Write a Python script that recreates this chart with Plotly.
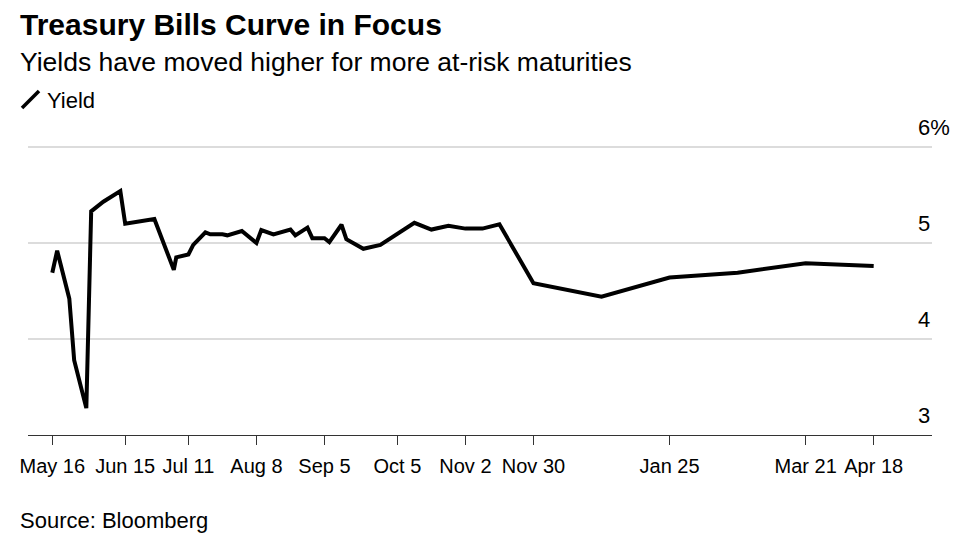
import datetime as dt
import plotly.graph_objects as go

# ---------------- data ----------------
start = dt.date(2023, 5, 16)
day_offsets = [0, 2, 7, 9, 14, 16, 21, 23, 28, 30, 42, 50, 51, 56, 58, 63, 65, 70, 72,
               78, 84, 86, 91, 98, 100, 105, 107, 112, 114, 119, 121, 128, 135, 149,
               156, 163, 170, 177, 184, 198, 226, 254, 282, 310, 338]
yields = [4.69, 4.92, 4.42, 3.78, 3.28, 5.33, 5.43, 5.46, 5.54, 5.20, 5.25, 4.72, 4.85,
          4.88, 4.98, 5.11, 5.09, 5.09, 5.08, 5.125, 5.00, 5.135, 5.09, 5.14, 5.08,
          5.16, 5.05, 5.05, 5.01, 5.19, 5.04, 4.94, 4.98, 5.21, 5.14, 5.18, 5.15,
          5.15, 5.195, 4.58, 4.44, 4.64, 4.69, 4.79, 4.76]
dates = [start + dt.timedelta(days=d) for d in day_offsets]

xtick_dates = ["2023-05-16", "2023-06-15", "2023-07-11", "2023-08-08", "2023-09-05",
               "2023-10-05", "2023-11-02", "2023-11-30", "2024-01-25", "2024-03-21",
               "2024-04-18"]
xtick_labels = ["May 16", "Jun 15", "Jul 11", "Aug 8", "Sep 5", "Oct 5", "Nov 2",
                "Nov 30", "Jan 25", "Mar 21", "Apr 18"]
ytick_vals = [3, 4, 5, 6]
ytick_labels = ["3", "4", "5", "6%"]

title = "Treasury Bills Curve in Focus"
subtitle = "Yields have moved higher for more at-risk maturities"
series_name = "Yield"
source = "Source: Bloomberg"

# ---------------- layout ----------------
FONT = "Liberation Sans, Arial, Helvetica, sans-serif"
W, H = 961, 535
L, R, T, B = 28, 29, 140, 100

fig = go.Figure()
fig.add_trace(go.Scatter(x=dates, y=yields, mode="lines", name=series_name,
                         line=dict(color="#000000", width=4), showlegend=False,
                         hoverinfo="x+y"))

x0 = dt.date(2023, 5, 16) - dt.timedelta(days=10.3)
x1 = dt.date(2024, 4, 18) + dt.timedelta(days=24.3)

fig.update_layout(
    width=W, height=H,
    margin=dict(l=L, r=R, t=T, b=B, pad=0),
    paper_bgcolor="white", plot_bgcolor="white",
    font=dict(family=FONT, color="#000000", size=20),
    xaxis=dict(range=[x0, x1], tickmode="array", tickvals=xtick_dates,
               ticktext=xtick_labels, ticks="outside", ticklen=9, tickwidth=1.2,
               tickcolor="#333333", showline=True, linecolor="#333333", linewidth=1.2,
               showgrid=False, zeroline=False, tickfont=dict(size=20),
               ticklabelstandoff=4),
    yaxis=dict(range=[3, 3 + 295 / 96], tickmode="array", tickvals=ytick_vals[1:],
               showticklabels=False, showgrid=True, gridcolor="#dcdcdc", gridwidth=1.5,
               zeroline=False, showline=False, ticks=""),
)

annotations = []
for v, lab in zip(ytick_vals, ytick_labels):
    annotations.append(dict(xref="paper", yref="y", x=(916 - L) / (W - L - R), y=v,
                            xanchor="left", yanchor="middle", yshift=20,
                            text=lab, showarrow=False, font=dict(size=22)))

annotations += [
    dict(xref="paper", yref="paper", x=0, y=1, xshift=-10, yshift=116,
         xanchor="left", yanchor="middle", text="<b>" + title + "</b>",
         showarrow=False, font=dict(size=30)),
    dict(xref="paper", yref="paper", x=0, y=1, xshift=-10, yshift=78,
         xanchor="left", yanchor="middle", text=subtitle,
         showarrow=False, font=dict(size=26.5)),
    dict(xref="paper", yref="paper", x=0, y=1, xshift=17, yshift=40,
         xanchor="left", yanchor="middle", text=series_name,
         showarrow=False, font=dict(size=22)),
    dict(xref="paper", yref="paper", x=0, y=0, xshift=-10, yshift=-85,
         xanchor="left", yanchor="middle", text=source,
         showarrow=False, font=dict(size=22)),
]
fig.update_layout(annotations=annotations)

fig.add_shape(type="line", xref="paper", yref="paper", xsizemode="pixel",
              ysizemode="pixel", xanchor=0, yanchor=1, x0=-6, y0=32, x1=11, y1=49,
              line=dict(color="#000000", width=3.5))

fig.write_html("out.html",
               config={"displayModeBar": False},
               post_script="document.body.style.margin='0';"
                           "document.body.style.overflow='hidden';")
